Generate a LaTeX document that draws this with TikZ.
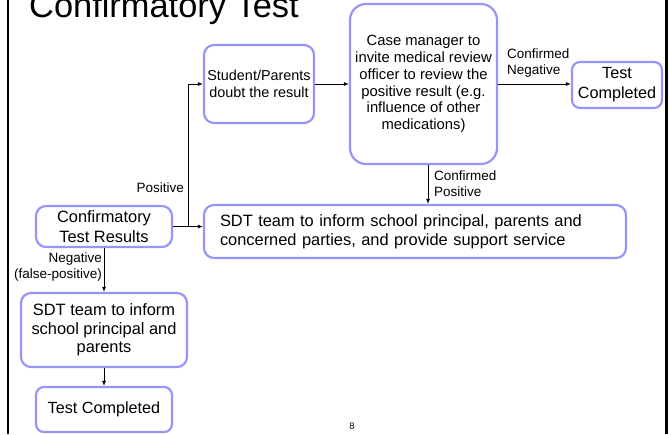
\documentclass[tikz,border=0pt]{standalone}
\usepackage{fontspec}
\setmainfont{Liberation Sans}
\usetikzlibrary{arrows.meta}
\definecolor{lav}{RGB}{150,150,250}
\begin{document}
\begin{tikzpicture}[x=1pt,y=-1pt,
  box/.style={draw=lav, line width=2.2pt, rounded corners=10pt, align=center, inner sep=0pt},
  lbl/.style={font=\fontsize{13.5}{16}\selectfont, inner sep=0pt},
  arr/.style={-{Latex[length=5pt,width=4pt]}, line width=0.8pt}]
\useasboundingbox (0,0) rectangle (671,434);
% frame
\draw[line width=2pt] (7.5,0) -- (7.5,434);
\draw[line width=3pt] (666.5,0) -- (666.5,434);
% title
\node[anchor=base west, font=\fontsize{34.4}{40}\selectfont, inner sep=0pt] (title) at (29,17) {Confirmatory Test};
% boxes
\node[box, minimum width=110pt, minimum height=78pt, font=\fontsize{14.4}{17}\selectfont] (stud) at (259,84) {Student/Parents\\doubt the result};
\node[box, rounded corners=16pt, minimum width=147pt, minimum height=160pt, font=\fontsize{14.8}{16.8}\selectfont] (case) at (423.5,84) {Case manager to\\invite medical review\\officer to review the\\positive result (e.g.\\influence of other\\medications)};
\node[box, rounded corners=8pt, minimum width=90pt, minimum height=46pt, font=\fontsize{16.2}{20}\selectfont] (tc1) at (617,85) {Test\\Completed};
\node[box, minimum width=136pt, minimum height=41pt, font=\fontsize{16.4}{20}\selectfont] (ctr) at (104,226.5) {Confirmatory\\Test Results};
\node[box, align=left, text width=390pt, inner xsep=16pt, minimum height=53pt, font=\fontsize{16.4}{19}\selectfont] (sdt) at (415,231.5) {SDT team to inform school principal, parents and\\concerned parties, and provide support service};
\node[box, minimum width=166pt, minimum height=74pt, font=\fontsize{16.4}{18.5}\selectfont] (sdt2) at (104,330) {SDT team to inform\\school principal and\\parents};
\node[box, rounded corners=8pt, minimum width=136pt, minimum height=45pt, font=\fontsize{16.2}{20}\selectfont] (tc2) at (104,409.5) {Test Completed};
% connectors
\coordinate (j) at (188,226.5);
\draw[arr] (ctr.east) -- (sdt.west |- ctr.east);
\draw[arr] (j) |- (stud.west);
\draw[arr] (stud.east) -- (case.west |- stud.east);
\draw[arr] (case.east) -- (tc1.west |- case.east);
\draw[arr] ([xshift=4.5pt]case.south) -- ([xshift=4.5pt]case.south |- sdt.north);
\draw[arr] (ctr.south) -- (sdt2.north);
\draw[arr] (sdt2.south) -- (tc2.north);
% labels
\node[lbl, anchor=base east] (lpos) at (184,192) {Positive};
\node[lbl, anchor=north west, align=left] (lneg) at (507,49) {Confirmed\\Negative};
\node[lbl, anchor=north west, align=left] (lcpos) at (434,171) {Confirmed\\Positive};
\node[lbl, anchor=north east, align=right] (lfp) at (102,253) {Negative\\(false-positive)};
% page number
\node[font=\fontsize{9.5}{11}\selectfont, inner sep=0pt] (pg) at (352,426) {8};
\end{tikzpicture}
\end{document}
